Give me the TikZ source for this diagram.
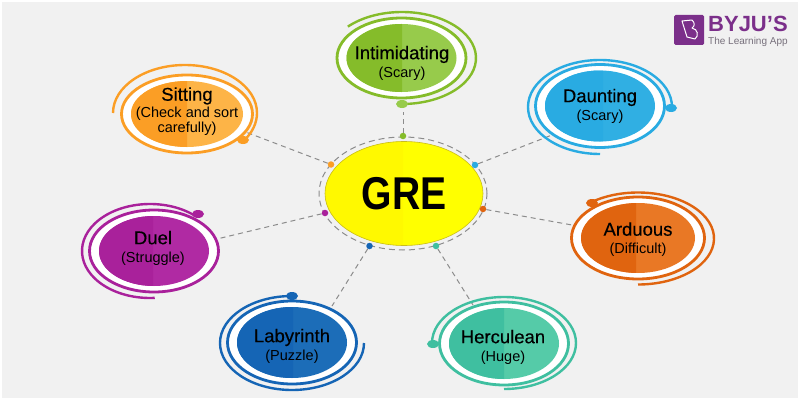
\documentclass[tikz,border=0pt]{standalone}
\usepackage{fontspec}
\setmainfont{Liberation Sans}
\newfontfamily\labelfont[FakeBold=0.35]{Liberation Sans}
\usetikzlibrary{shapes.geometric}

\definecolor{pagebg}{HTML}{F1F1F1}
\definecolor{linkgray}{HTML}{8C8C8C}
\definecolor{greA}{HTML}{FFF900}
\definecolor{greB}{HTML}{FFFF00}
\definecolor{greedge}{HTML}{C9BC1E}
\definecolor{greenA}{HTML}{85BC2A}
\definecolor{greenB}{HTML}{97CB4B}
\definecolor{skyA}{HTML}{29ABE2}
\definecolor{skyB}{HTML}{30AFE3}
\definecolor{rustA}{HTML}{E0640F}
\definecolor{rustB}{HTML}{E97825}
\definecolor{tealA}{HTML}{3FBFA0}
\definecolor{tealB}{HTML}{55CBA8}
\definecolor{navyA}{HTML}{1565B5}
\definecolor{navyB}{HTML}{1C6DB8}
\definecolor{plumA}{HTML}{A9219B}
\definecolor{plumB}{HTML}{B02AA3}
\definecolor{amberA}{HTML}{FB9E25}
\definecolor{amberB}{HTML}{FDB447}
\definecolor{logopurple}{HTML}{7B2F8A}
\definecolor{logogray}{HTML}{77707C}

\tikzset{
    title/.style={align=center, inner sep=0pt, font=\labelfont\fontsize{18.5}{18}\selectfont},
    dotmark/.style={circle, fill=#1, inner sep=0pt, minimum size=6.5pt},
    knob/.style={ellipse, fill=#1, inner sep=0pt, minimum width=12pt, minimum height=8pt},
    spiral/.style={line width=2.4pt, color=#1},
    link/.style={linkgray, line width=1pt, dash pattern=on 5pt off 4pt}
}

% cx, cy, rx, ry, split x, left colour, right colour
\newcommand{\topicdisc}[7]{
    \fill[white] (#1,#2) ellipse [x radius=#3pt+8pt, y radius=#4pt+5pt];
    \fill[#7] (#1,#2) ellipse [x radius=#3pt, y radius=#4pt];
    \begin{scope}
        \clip (#1-100,#2-100) rectangle (#5,#2+100);
        \fill[#6] (#1,#2) ellipse [x radius=#3pt, y radius=#4pt];
    \end{scope}
    \draw[#6, line width=2.8pt] (#1,#2) ellipse [x radius=#3pt+9.5pt, y radius=#4pt+6pt];
}

\newcommand{\subline}[1]{{\setmainfont{Liberation Sans}\normalfont\fontsize{14.5}{15}\selectfont #1}}

\begin{document}
\begin{tikzpicture}[x=1pt, y=1pt]
    \useasboundingbox (0,0) rectangle (800,400);
    \fill[white] (0,0) rectangle (800,400);
    \fill[pagebg] (2,2) rectangle (798,398);

    % centre
    \draw[linkgray, line width=1pt, dash pattern=on 6pt off 4pt] (403,206.5) ellipse [x radius=84pt, y radius=56.5pt];
    \fill[greB] (404,206.5) ellipse [x radius=79pt, y radius=52pt];
    \begin{scope}
        \clip (300,100) rectangle (403,300);
        \fill[greA] (404,206.5) ellipse [x radius=79pt, y radius=52pt];
    \end{scope}
    \draw[greedge, line width=0.6pt] (404,206.5) ellipse [x radius=79pt, y radius=52pt];
    \node[inner sep=0pt, font=\fontsize{46}{46}\selectfont\bfseries] (gre) at (404,206) {\scalebox{0.85}[1]{GRE}};

    % dots on the dashed ring
    \node[dotmark=greenA] (dotgreen) at (403,264) {};
    \node[dotmark=skyA] (dotsky) at (475,235) {};
    \node[dotmark=rustA] (dotrust) at (483,191) {};
    \node[dotmark=tealA] (dotteal) at (436,154) {};
    \node[dotmark=navyA] (dotnavy) at (369.5,154) {};
    \node[dotmark=plumA] (dotplum) at (325,187) {};
    \node[dotmark=amberA] (dotamber) at (331,235.5) {};

    % free ends of the links
    \coordinate (endgreen) at (403,288);
    \coordinate (endsky) at (552,265);
    \coordinate (endrust) at (572,175);
    \coordinate (endteal) at (473,95);
    \coordinate (endnavy) at (332,94);
    \coordinate (endplum) at (217,161);
    \coordinate (endamber) at (243,269);

    \draw[link] (dotgreen) -- (endgreen);
    \draw[link] (dotsky) -- (endsky);
    \draw[link] (dotrust) -- (endrust);
    \draw[link] (dotteal) -- (endteal);
    \draw[link] (dotnavy) -- (endnavy);
    \draw[link] (dotplum) -- (endplum);
    \draw[link] (dotamber) -- (endamber);

    % Intimidating
    \topicdisc{401.5}{342}{55}{34}{402}{greenA}{greenB}
    \draw[spiral=greenA] (402,342) ++(137:74pt and 46pt) arc [start angle=137, end angle=-90, x radius=74pt, y radius=46pt];
    \node[knob=greenB] (knobgreen) at (402,296) {};
    \node[title] (intimidating) at (402,337) {Intimidating\\\subline{(Scary)}};

    % Daunting
    \topicdisc{600}{294}{55}{35.5}{603}{skyA}{skyB}
    \draw[spiral=skyA] (600,293) ++(0:72pt and 47pt) arc [start angle=0, end angle=270, x radius=72pt, y radius=47pt];
    \node[knob=skyA] (knobsky) at (671,292) {};
    \node[title] (daunting) at (600,294) {Daunting\\\subline{(Scary)}};

    % Arduous
    \topicdisc{638}{162}{57}{35}{636}{rustA}{rustB}
    \draw[spiral=rustA] (638,161.5) ++(128:76pt and 46pt) arc [start angle=128, end angle=-90, x radius=76pt, y radius=46pt];
    \node[knob=rustA] (knobrust) at (592,197) {};
    \node[title] (arduous) at (638,160.5) {Arduous\\\subline{(Difficult)}};

    % Herculean
    \topicdisc{504}{56.5}{55}{35.5}{504}{tealA}{tealB}
    \draw[spiral=tealA] (504,57) ++(180:72pt and 46pt) arc [start angle=180, end angle=-90, x radius=72pt, y radius=46pt];
    \node[knob=tealA] (knobteal) at (433,56) {};
    \node[title] (herculean) at (503,53) {Herculean\\\subline{(Huge)}};

    % Labyrinth
    \topicdisc{292}{57.5}{55}{35.5}{293}{navyA}{navyB}
    \draw[spiral=navyA] (292,57) ++(90:72pt and 47pt) arc [start angle=90, end angle=360, x radius=72pt, y radius=47pt];
    \node[knob=navyA] (knobnavy) at (292,104) {};
    \node[title] (labyrinth) at (292,54) {Labyrinth\\\subline{(Puzzle)}};

    % Duel
    \topicdisc{154}{149}{55}{35}{153}{plumA}{plumB}
    \draw[spiral=plumA] (150,149) ++(48:68pt and 47pt) arc [start angle=48, end angle=274, x radius=68pt, y radius=47pt];
    \node[knob=plumA] (knobplum) at (198,186) {};
    \node[title] (duel) at (153,152) {Duel\\\subline{(Struggle)}};

    % Sitting
    \topicdisc{187}{286}{56}{33}{187}{amberA}{amberB}
    \draw[spiral=amberA] (185,287) ++(180:72pt and 48pt) arc [start angle=180, end angle=-35, x radius=72pt, y radius=48pt];
    \node[knob=amberA] (knobamber) at (243,260) {};
    \node[title] (sitting) at (187,288.5) {Sitting\\[-1pt]\subline{(Check and sort}\\[-3pt]\subline{carefully)}};

    % logo
    \node[fill=logopurple, rounded corners=1.5pt, minimum size=30pt, inner sep=0pt] (logobox) at (689,370) {};
    \draw[white, line width=1pt, line join=round] (682,379) -- (692,380) .. controls (695,377) and (695,374) .. (692,372) .. controls (698,371) and (699,364) .. (695,361) -- (687,363) -- cycle;
    \node[anchor=west, inner sep=0pt, text=logopurple, font=\fontsize{22}{22}\selectfont\bfseries] (logoname) at (708,376) {BYJU'S};
    \node[anchor=west, inner sep=0pt, text=logogray, font=\fontsize{10}{10}\selectfont] (logotag) at (708,358) {The Learning App};
\end{tikzpicture}
\end{document}
